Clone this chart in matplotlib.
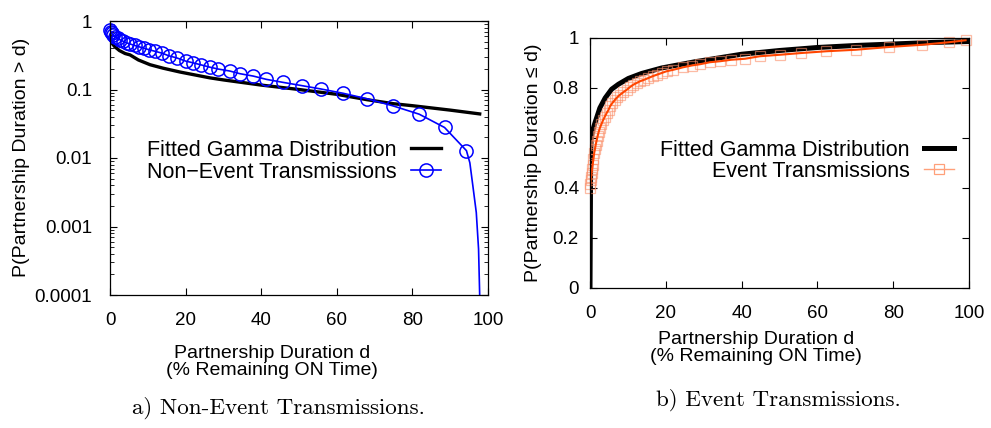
import matplotlib
matplotlib.use("Agg")
import matplotlib.pyplot as plt
from matplotlib.ticker import FixedLocator, FixedFormatter, LogLocator, NullFormatter

plt.rcParams['font.family'] = ['Liberation Sans', 'DejaVu Sans']

# ---- panel a: non-event transmissions (CCDF, log y) ----
gamma_a_x = [0, 0.3, 0.7, 1.3, 2.5, 4, 5.3, 7.5, 10.6, 14, 18.5, 22, 26.4, 30,
             40, 50, 60, 68, 75, 80, 90, 97.8]
gamma_a_y = [0.63, 0.52, 0.46, 0.42, 0.37, 0.335, 0.32, 0.27, 0.23, 0.205, 0.18,
             0.165, 0.148, 0.138, 0.116, 0.10, 0.085, 0.071, 0.062, 0.058, 0.050, 0.044]

nonevent_x = [0, 0.2, 0.5, 0.9, 1.4, 2.0, 2.7, 3.5, 4.4, 5.4, 6.5, 7.7, 9.0, 10.4,
              12.0, 13.7, 15.6, 17.6, 20.0, 22.0, 24.2, 26.4, 28.6, 31.7, 34.4, 37.9,
              41.4, 45.8, 50.7, 55.7, 61.7, 68.1, 74.9, 81.8, 88.5, 94.3]
nonevent_y = [0.74, 0.70, 0.66, 0.62, 0.59, 0.56, 0.53, 0.505, 0.48, 0.46, 0.44, 0.42,
              0.40, 0.38, 0.36, 0.34, 0.31, 0.29, 0.26, 0.245, 0.228, 0.212, 0.199,
              0.186, 0.170, 0.157, 0.1405, 0.127, 0.114, 0.102, 0.088, 0.073, 0.0576,
              0.0436, 0.0279, 0.0128]
# tail of the empirical curve (no markers)
nonevent_tail_x = [95.2, 96.0, 96.9, 97.5, 97.8]
nonevent_tail_y = [0.0085, 0.0039, 0.0016, 0.00047, 0.0001]

# ---- panel b: event transmissions (CDF) ----
gamma_b_x = [0, 0.15, 0.2, 0.3, 0.7, 1.3, 2.6, 4.0, 5.7, 7.5, 10.1, 13.6, 18.9, 27.7,
             40, 50, 60, 70, 80, 90, 100]
gamma_b_y = [0, 0.45, 0.55, 0.6, 0.63, 0.66, 0.72, 0.76, 0.795, 0.815, 0.838, 0.858,
             0.88, 0.905, 0.935, 0.95, 0.962, 0.97, 0.976, 0.982, 0.986]

event_x = [0, 0.1, 0.2, 0.3, 0.4, 0.55, 0.7, 0.9, 1.1, 1.3, 1.5, 1.75, 2.0, 2.3, 2.6,
           3.0, 3.5, 3.9, 4.4, 4.9, 5.3, 5.9, 6.6, 7.2, 7.9, 8.8, 9.7, 10.5, 11.4,
           12.3, 13.2, 14.3, 15.4, 16.5, 17.6, 18.9, 20.2, 22.0, 24.6, 26.8, 29.0,
           31.6, 34.3, 37.3, 40.9, 44.8, 50.1, 55.8, 62.4, 70.1, 78.9, 87.7, 94.7, 99.1]
event_y = [0.40, 0.415, 0.433, 0.445, 0.46, 0.475, 0.493, 0.515, 0.54, 0.555, 0.573,
           0.59, 0.607, 0.625, 0.64, 0.655, 0.673, 0.685, 0.70, 0.713, 0.727, 0.74,
           0.753, 0.763, 0.773, 0.783, 0.793, 0.803, 0.813, 0.82, 0.827, 0.833, 0.84,
           0.847, 0.853, 0.86, 0.867, 0.873, 0.883, 0.89, 0.895, 0.903, 0.907, 0.913,
           0.917, 0.927, 0.933, 0.94, 0.947, 0.953, 0.964, 0.973, 0.983, 0.991]

fig = plt.figure(figsize=(9.91, 4.28), dpi=100)
W, H = 991.0, 428.0


def px_axes(x0, y0, x1, y1):
    return fig.add_axes([x0 / W, 1 - y1 / H, (x1 - x0) / W, (y1 - y0) / H])


def style(ax):
    ax.tick_params(direction='in', top=True, right=True, length=5, width=0.8,
                   labelsize=13.5)
    ax.tick_params(which='minor', direction='in', top=True, right=True, length=3,
                   width=0.6)
    for s in ax.spines.values():
        s.set_linewidth(0.9)


# panel a
ax1 = px_axes(110, 21, 488, 295)
ax1.plot(gamma_a_x, gamma_a_y, color='black', lw=2.4, label='Fitted Gamma Distribution')
ax1.plot(nonevent_x + nonevent_tail_x, nonevent_y + nonevent_tail_y, color='#0000ff',
         lw=1.2)
ax1.plot(nonevent_x, nonevent_y, ls='none', marker='o', ms=9.5, mfc='none',
         mec='#0000ff', mew=1.1, clip_on=False)
ax1.plot([], [], color='#0000ff', lw=1.2, marker='o', ms=9.5, mfc='none', mew=1.1,
         label='Non\u2212Event Transmissions')
ax1.set_yscale('log')
ax1.set_xlim(0, 100)
ax1.set_ylim(1e-4, 1)
ax1.xaxis.set_major_locator(FixedLocator([0, 20, 40, 60, 80, 100]))
ax1.yaxis.set_major_locator(FixedLocator([1e-4, 1e-3, 1e-2, 1e-1, 1]))
ax1.yaxis.set_major_formatter(FixedFormatter(['0.0001', '0.001', '0.01', '0.1', '1']))
ax1.yaxis.set_minor_locator(LogLocator(base=10, subs=range(2, 10)))
ax1.yaxis.set_minor_formatter(NullFormatter())
style(ax1)
ax1.tick_params(axis='x', pad=12)
ax1.tick_params(axis='y', pad=13)
ax1.legend(loc='upper right', bbox_to_anchor=(0.875, 0.567), frameon=False,
           markerfirst=False, fontsize=15.5, handlelength=1.4, handletextpad=0.65,
           labelspacing=0.05, borderpad=0, borderaxespad=0)

# panel b
ax2 = px_axes(590, 38, 969, 288)
ax2.plot(gamma_b_x, gamma_b_y, color='black', lw=3.6, label='Fitted Gamma Distribution')
ax2.plot(event_x, event_y, ls='none', marker='s', ms=7, mfc='none', mec='#fb8f6a',
         mew=0.9, alpha=0.6, clip_on=False)
ax2.plot(event_x, event_y, color='#ff4500', lw=1.5)
ax2.plot([], [], color='#ffa07a', lw=1.0, marker='s', ms=7, mfc='none', mew=0.9,
         label='Event Transmissions')
ax2.set_xlim(0, 100)
ax2.set_ylim(0, 1)
ax2.xaxis.set_major_locator(FixedLocator([0, 20, 40, 60, 80, 100]))
ax2.yaxis.set_major_locator(FixedLocator([0, 0.2, 0.4, 0.6, 0.8, 1]))
ax2.yaxis.set_major_formatter(FixedFormatter(['0', '0.2', '0.4', '0.6', '0.8', '1']))
style(ax2)
ax2.tick_params(axis='x', pad=12)
ax2.tick_params(axis='y', pad=8)
ax2.legend(loc='upper right', bbox_to_anchor=(0.96, 0.592), frameon=False,
           markerfirst=False, fontsize=15.5, handlelength=1.4, handletextpad=0.65,
           labelspacing=0.0, borderpad=0, borderaxespad=0)

# axis labels placed in pixels
fig.text(22 / W, 1 - 157 / H, 'P(Partnership Duration > d)', rotation=90,
         ha='center', va='center', fontsize=14)
fig.text(534 / W, 1 - 163 / H, 'P(Partnership Duration \u2264 d)', rotation=90,
         ha='center', va='center', fontsize=14)
fig.text(272 / W, 1 - 362 / H, 'Partnership Duration d\n(% Remaining ON Time)',
         ha='center', va='center', fontsize=14, linespacing=0.95)
fig.text(756 / W, 1 - 348 / H, 'Partnership Duration d\n(% Remaining ON Time)',
         ha='center', va='center', fontsize=14, linespacing=1.05)

# captions
fig.text(278 / W, 1 - 408 / H, 'a) Non-Event Transmissions.', ha='center',
         va='center', fontsize=16.6, family='cmr10')
fig.text(778 / W, 1 - 400 / H, 'b) Event Transmissions.', ha='center',
         va='center', fontsize=16.6, family='cmr10')

fig.savefig('out.png', dpi=100)
